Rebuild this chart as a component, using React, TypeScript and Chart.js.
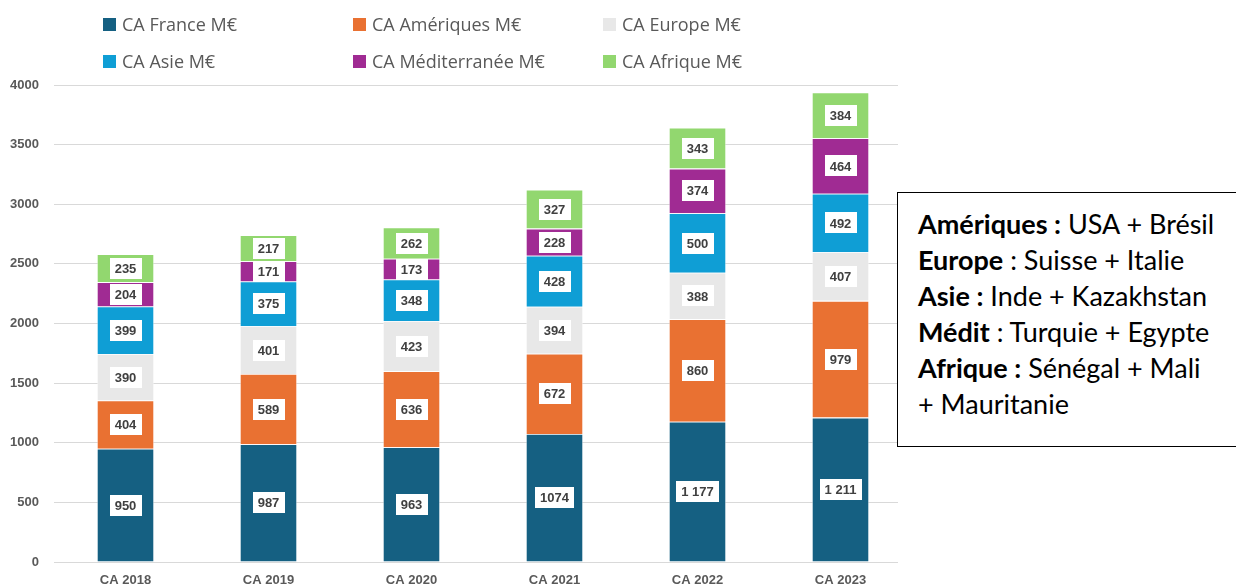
import React, { useEffect, useRef } from "react";
import { Chart, registerables } from "chart.js";

Chart.register(...registerables);

const categories = ["CA 2018", "CA 2019", "CA 2020", "CA 2021", "CA 2022", "CA 2023"];
const seriesNames = [
  "CA France M€",
  "CA Amériques M€",
  "CA Europe M€",
  "CA Asie M€",
  "CA Méditerranée M€",
  "CA Afrique M€",
];
const france = [950, 987, 963, 1074, 1177, 1211];
const franceLabels = ["950", "987", "963", "1074", "1 177", "1 211"];
const ameriques = [404, 589, 636, 672, 860, 979];
const europe = [390, 401, 423, 394, 388, 407];
const asie = [399, 375, 348, 428, 500, 492];
const mediterranee = [204, 171, 173, 228, 374, 464];
const afrique = [235, 217, 262, 327, 343, 384];
const colors = ["#156082", "#E97132", "#E8E8E8", "#0F9ED5", "#A02B93", "#92D76F"];
const yTicks = [0, 500, 1000, 1500, 2000, 2500, 3000, 3500, 4000];

const legendCols = [103, 353, 603];
const legendRows = [24, 61];

const boxLines: [string, string][] = [
  ["Amériques :", " USA + Brésil"],
  ["Europe", " : Suisse + Italie"],
  ["Asie :", " Inde + Kazakhstan"],
  ["Médit", " : Turquie + Egypte"],
  ["Afrique :", " Sénégal + Mali"],
  ["", "+ Mauritanie"],
];

const gridTrim = {
  id: "gridTrim",
  beforeDatasetsDraw(chart: any) {
    const { ctx, chartArea } = chart;
    ctx.save();
    ctx.fillStyle = "#FFFFFF";
    ctx.fillRect(chartArea.right - 14, 0, 30, chartArea.bottom + 2);
    ctx.restore();
  },
};

const labelPlugin = {
  id: "boxLabels",
  afterDatasetsDraw(chart: any) {
    const ctx = chart.ctx;
    ctx.save();
    ctx.font = "bold 13px 'Liberation Sans', Arial, sans-serif";
    ctx.textAlign = "center";
    ctx.textBaseline = "middle";
    chart.data.datasets.forEach((ds: any, di: number) => {
      const meta = chart.getDatasetMeta(di);
      meta.data.forEach((el: any, i: number) => {
        const v = ds.data[i];
        const txt = di === 0 ? franceLabels[i] : String(v);
        const cx = el.x;
        const cy = (el.y + el.base) / 2;
        const w = ctx.measureText(txt).width + 10;
        const h = 21;
        ctx.fillStyle = "#FFFFFF";
        ctx.fillRect(Math.round(cx - w / 2), Math.round(cy - h / 2), Math.round(w), h);
        ctx.fillStyle = "#404040";
        ctx.fillText(txt, cx, cy + 1);
      });
    });
    ctx.restore();
  },
};

export default function App() {
  const ref = useRef<HTMLCanvasElement>(null);
  useEffect(() => {
    const all = [france, ameriques, europe, asie, mediterranee, afrique];
    const chart = new Chart(ref.current!, {
      type: "bar",
      data: {
        labels: categories,
        datasets: all.map((d, i) => ({
          label: seriesNames[i],
          data: d,
          backgroundColor: colors[i],
          borderColor: "rgba(255,255,255,0.55)",
          borderWidth: 0.8,
          barPercentage: 0.4,
          categoryPercentage: 1,
        })),
      },
      options: {
        animation: false,
        responsive: false,
        layout: { padding: { top: 85, right: 324, left: 0, bottom: 0 } },
        plugins: { legend: { display: false }, tooltip: { enabled: false } },
        scales: {
          x: {
            stacked: true,
            grid: { display: false, drawTicks: false },
            border: { display: false },
            ticks: {
              padding: 11,
              color: "#595959",
              font: { family: "'Liberation Sans', Arial, sans-serif", size: 13, weight: "bold" },
            },
            afterFit(scale: any) {
              scale.height = 24;
            },
          },
          y: {
            stacked: true,
            min: 0,
            max: 4000,
            afterBuildTicks(scale: any) {
              scale.ticks = yTicks.map((v) => ({ value: v }));
            },
            grid: { color: "#D9D9D9", drawTicks: false, lineWidth: 1 },
            border: { display: false },
            ticks: {
              padding: 15,
              color: "#595959",
              callback: (v: any) => String(v),
              font: { family: "'Liberation Sans', Arial, sans-serif", size: 13, weight: "bold" },
            },
            afterFit(scale: any) {
              scale.width = 54;
            },
          },
        },
      },
      plugins: [gridTrim, labelPlugin],
    } as any);
    return () => chart.destroy();
  }, []);

  return (
    <div style={{ position: "fixed", left: 0, top: 0, width: 1236, height: 586, background: "#fff", overflow: "hidden" }}>
      <canvas ref={ref} width={1236} height={586} style={{ position: "absolute", left: 0, top: 0 }} />
      {seriesNames.map((n, i) => (
        <div
          key={n}
          style={{
            position: "absolute",
            left: legendCols[i % 3],
            top: legendRows[Math.floor(i / 3)] - 12,
            height: 24,
            display: "flex",
            alignItems: "center",
            fontFamily: "'Open Sans', sans-serif",
            fontSize: 18,
            color: "#595959",
            whiteSpace: "nowrap",
          }}
        >
          <span style={{ display: "inline-block", width: 13, height: 13, background: colors[i], marginRight: 6 }} />
          {n}
        </div>
      ))}
      <div
        style={{
          position: "absolute",
          left: 897,
          top: 192,
          width: 360,
          height: 255,
          border: "1px solid #000",
          background: "#fff",
          boxSizing: "border-box",
          padding: "13px 0 0 20px",
          fontFamily: "Lato, sans-serif",
          fontSize: 27,
          lineHeight: "36px",
          color: "#000",
        }}
      >
        {boxLines.map(([b, r], i) => (
          <div key={i} style={{ whiteSpace: "nowrap" }}>
            {b && <b>{b}</b>}
            {r}
          </div>
        ))}
      </div>
    </div>
  );
}
